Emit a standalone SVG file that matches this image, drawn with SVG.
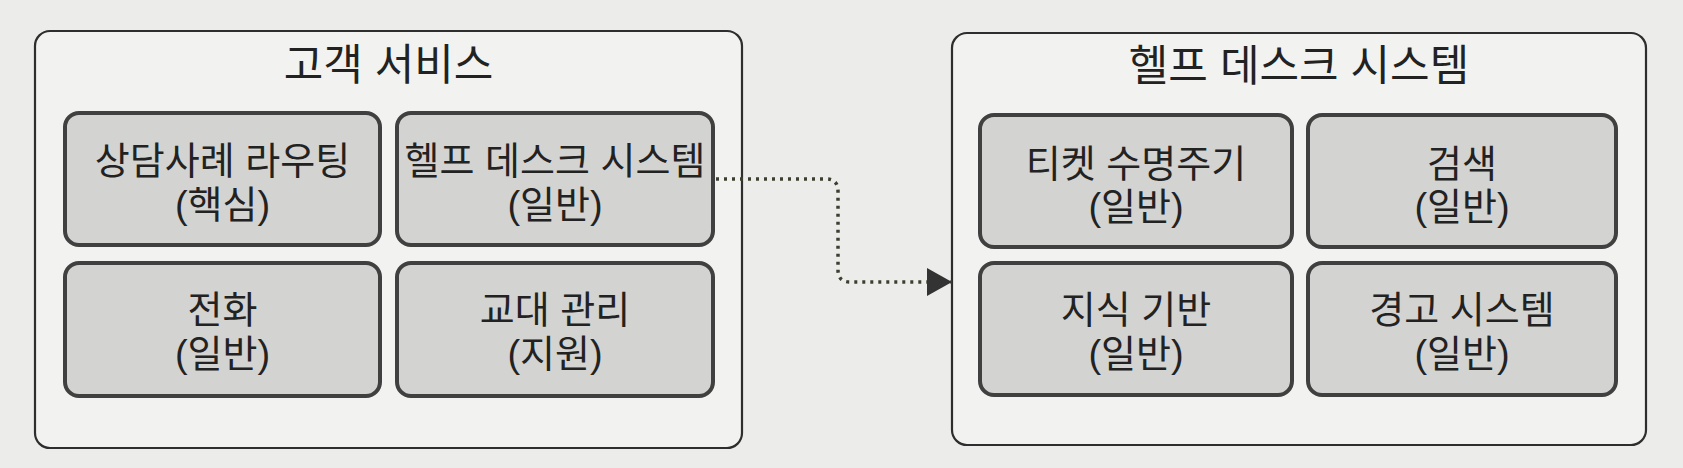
<svg xmlns="http://www.w3.org/2000/svg" width="1683" height="468" viewBox="0 0 1683 468">
  <defs>
    <marker id="arrow" viewBox="0 0 25 28" refX="25" refY="14" markerWidth="25" markerHeight="28" markerUnits="userSpaceOnUse" orient="auto">
      <path d="M0,0 L25,14 L0,28 Z" fill="#333"/>
    </marker>
  </defs>
  <style>
    .bg { fill: #ececea; }
    .outer { fill: #f2f2f0; stroke: #2e2e2e; stroke-width: 2.2; }
    .inner { fill: #d3d3d1; stroke: #404040; stroke-width: 4; }
    .title { font-family: "Liberation Sans", "Noto Sans CJK KR", sans-serif; font-size: 43px; fill: #222; text-anchor: middle; }
    .label { font-family: "Liberation Sans", "Noto Sans CJK KR", sans-serif; font-size: 38px; fill: #222; text-anchor: middle; }
    .conn { fill: none; stroke: #3c3f30; stroke-width: 3.5; stroke-dasharray: 3 5; }
  </style>
  <rect class="bg" x="0" y="0" width="1683" height="468"/>

  <g id="customer-service">
    <rect class="outer" x="35" y="31" width="707" height="417" rx="15"/>
    <text class="title" x="388.5" y="80">고객 서비스</text>
  </g>
  <g id="routing">
    <rect class="inner" x="65" y="113" width="315" height="132" rx="14"/>
    <text class="label"><tspan x="222.5" y="174">상담사례 라우팅</tspan><tspan x="222.5" y="218">(핵심)</tspan></text>
  </g>
  <g id="helpdesk-node">
    <rect class="inner" x="397" y="113" width="316" height="132" rx="14"/>
    <text class="label"><tspan x="555" y="174">헬프 데스크 시스템</tspan><tspan x="555" y="218">(일반)</tspan></text>
  </g>
  <g id="phone">
    <rect class="inner" x="65" y="263" width="315" height="133" rx="14"/>
    <text class="label"><tspan x="222.5" y="323">전화</tspan><tspan x="222.5" y="367">(일반)</tspan></text>
  </g>
  <g id="shift">
    <rect class="inner" x="397" y="263" width="316" height="133" rx="14"/>
    <text class="label"><tspan x="555" y="323">교대 관리</tspan><tspan x="555" y="367">(지원)</tspan></text>
  </g>

  <g id="helpdesk-system">
    <rect class="outer" x="952" y="33" width="694" height="412" rx="15"/>
    <text class="title" x="1299" y="81">헬프 데스크 시스템</text>
  </g>
  <g id="ticket">
    <rect class="inner" x="980" y="115" width="312" height="132" rx="14"/>
    <text class="label"><tspan x="1136" y="177">티켓 수명주기</tspan><tspan x="1136" y="220">(일반)</tspan></text>
  </g>
  <g id="search">
    <rect class="inner" x="1308" y="115" width="308" height="132" rx="14"/>
    <text class="label"><tspan x="1462" y="177">검색</tspan><tspan x="1462" y="220">(일반)</tspan></text>
  </g>
  <g id="knowledge">
    <rect class="inner" x="980" y="263" width="312" height="132" rx="14"/>
    <text class="label"><tspan x="1136" y="323">지식 기반</tspan><tspan x="1136" y="367">(일반)</tspan></text>
  </g>
  <g id="alert">
    <rect class="inner" x="1308" y="263" width="308" height="132" rx="14"/>
    <text class="label"><tspan x="1462" y="323">경고 시스템</tspan><tspan x="1462" y="367">(일반)</tspan></text>
  </g>

  <g id="connectors">
    <path class="conn" d="M716,179 H826 Q838,179 838,191 V270 Q838,282 850,282 H952" marker-end="url(#arrow)"/>
  </g>
</svg>
